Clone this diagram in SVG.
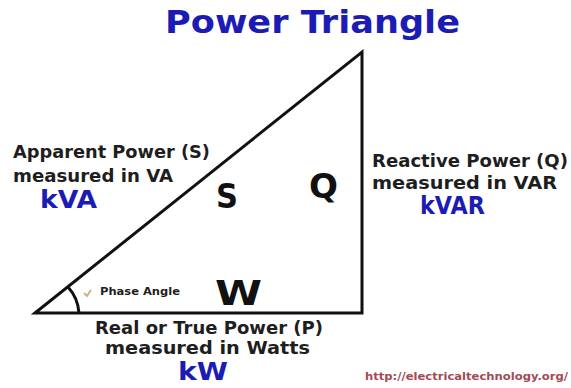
<svg xmlns="http://www.w3.org/2000/svg" width="571" height="388" viewBox="0 0 571 388">
<style>
.t{font-family:"DejaVu Sans","Liberation Sans",sans-serif;font-weight:bold}
.blk{fill:#1e1e1e}
.blue{fill:#1c1cb4}
.lbl{font-size:17px}
.unit{font-size:24px}
.big{font-size:33px;fill:#111}
.edge{fill:none;stroke:#111;stroke-width:3;stroke-linejoin:miter}
</style>
<rect width="571" height="388" fill="#ffffff"/>
<g id="title">
<text class="t blue" x="165" y="33" font-size="32" textLength="295" lengthAdjust="spacingAndGlyphs">Power Triangle</text>
</g>
<g id="connectors">
<path class="edge" d="M35 313 L362 52 L362 313 Z"/>
<path class="edge" stroke-width="2.5" d="M79 313 A43 43 0 0 0 68 287"/>
</g>
<g id="apparent">
<text class="t blk lbl" x="13" y="158" textLength="197" lengthAdjust="spacingAndGlyphs">Apparent Power (S)</text>
<text class="t blk lbl" x="13" y="182" textLength="160" lengthAdjust="spacingAndGlyphs">measured in VA</text>
<text class="t blue unit" x="40" y="208" textLength="57" lengthAdjust="spacingAndGlyphs">kVA</text>
<text class="t big" x="216" y="208" textLength="22" lengthAdjust="spacingAndGlyphs">S</text>
</g>
<g id="reactive">
<text class="t big" x="309" y="198" textLength="29" lengthAdjust="spacingAndGlyphs">Q</text>
<text class="t blk lbl" x="372" y="167" textLength="196" lengthAdjust="spacingAndGlyphs">Reactive Power (Q)</text>
<text class="t blk lbl" x="372" y="189" textLength="185" lengthAdjust="spacingAndGlyphs">measured in VAR</text>
<text class="t blue unit" x="420" y="214" textLength="65" lengthAdjust="spacingAndGlyphs">kVAR</text>
</g>
<g id="phase">
<path d="M84 293 L87 296 L91 290" fill="none" stroke="#c9b27a" stroke-width="1.8"/>
<text class="t blk" x="100" y="295" font-size="11" textLength="80" lengthAdjust="spacingAndGlyphs">Phase Angle</text>
</g>
<g id="real">
<text class="t big" x="215" y="305" textLength="47" lengthAdjust="spacingAndGlyphs">W</text>
<text class="t blk lbl" x="95" y="334" textLength="228" lengthAdjust="spacingAndGlyphs">Real or True Power (P)</text>
<text class="t blk lbl" x="105" y="354" textLength="205" lengthAdjust="spacingAndGlyphs">measured in Watts</text>
<text class="t blue unit" x="178" y="380" textLength="50" lengthAdjust="spacingAndGlyphs">kW</text>
</g>
<g id="url">
<text class="t" x="365" y="380" font-size="10.5" fill="#a34a55" textLength="203" lengthAdjust="spacingAndGlyphs">http://electricaltechnology.org/</text>
</g>
</svg>
